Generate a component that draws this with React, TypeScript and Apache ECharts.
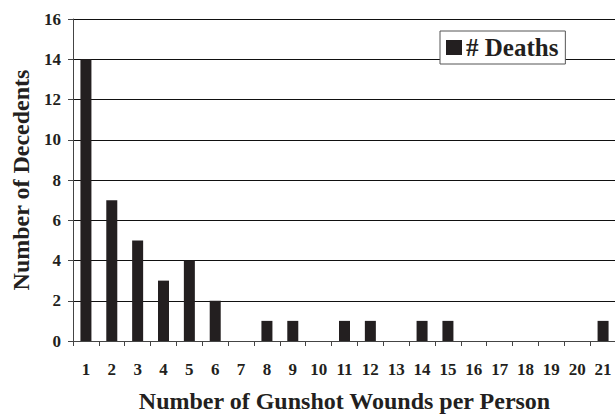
import React, { useEffect, useRef } from "react";
import * as echarts from "echarts";

const categories = ["1","2","3","4","5","6","7","8","9","10","11","12","13","14","15","16","17","18","19","20","21"];
const deaths = [14, 7, 5, 3, 4, 2, 0, 1, 1, 0, 1, 1, 0, 1, 1, 0, 0, 0, 0, 0, 1];
const seriesName = "# Deaths";
const xTitle = "Number of Gunshot Wounds per Person";
const yTitle = "Number of Decedents";

const FONT = "Times New Roman, Liberation Serif, DejaVu Serif, serif";

export default function App() {
  const ref = useRef<HTMLDivElement>(null);
  useEffect(() => {
    if (!ref.current) return;
    const chart = echarts.init(ref.current, null, { renderer: "svg" });
    chart.setOption({
      animation: false,
      backgroundColor: "#ffffff",
      textStyle: { fontFamily: FONT },
      grid: { left: 73, top: 19, width: 543, bottom: 74, containLabel: false, outerBoundsMode: "none" },
      legend: {
        data: [{ name: seriesName, icon: "rect" }],
        left: 440,
        top: 31,
        itemWidth: 16,
        itemHeight: 15,
        itemGap: 0,
        padding: [4, 7, 4, 6],
        backgroundColor: "#ffffff",
        borderColor: "#555555",
        borderWidth: 1,
        textStyle: { fontFamily: FONT, fontSize: 25, fontWeight: "bold", color: "#231f20", padding: [0, 0, 0, -1] },
        selectedMode: false,
      },
      xAxis: {
        type: "category",
        data: categories,
        name: xTitle,
        nameLocation: "middle",
        nameGap: 50,
        nameTextStyle: { fontFamily: FONT, fontSize: 24, lineHeight: 20, fontWeight: "bold", color: "#231f20" },
        axisLine: { show: true, lineStyle: { color: "#444444", width: 1 } },
        axisTick: { show: true, length: 5, alignWithLabel: false, lineStyle: { color: "#444444" } },
        axisLabel: { interval: 0, margin: 20, fontFamily: FONT, fontSize: 17, fontWeight: "bold", color: "#231f20" },
        splitLine: { show: false },
      },
      yAxis: {
        type: "value",
        min: 0,
        max: 16,
        interval: 2,
        name: yTitle,
        nameLocation: "middle",
        nameGap: 37,
        nameTextStyle: { fontFamily: FONT, fontSize: 24, fontWeight: "bold", color: "#231f20" },
        axisLine: { show: true, lineStyle: { color: "#444444", width: 1 } },
        axisTick: { show: true, length: 5, lineStyle: { color: "#444444" } },
        axisLabel: { margin: 12, fontFamily: FONT, fontSize: 17, fontWeight: "bold", color: "#231f20" },
        splitLine: { show: true, lineStyle: { color: "#111111", width: 1 } },
      },
      series: [
        {
          name: seriesName,
          type: "bar",
          data: deaths,
          barWidth: 11,
          itemStyle: { color: "#231f20" },
        },
      ],
    });
    return () => chart.dispose();
  }, []);
  return <div ref={ref} style={{ width: 615, height: 415, position: "absolute", left: 0, top: 0 }} />;
}
